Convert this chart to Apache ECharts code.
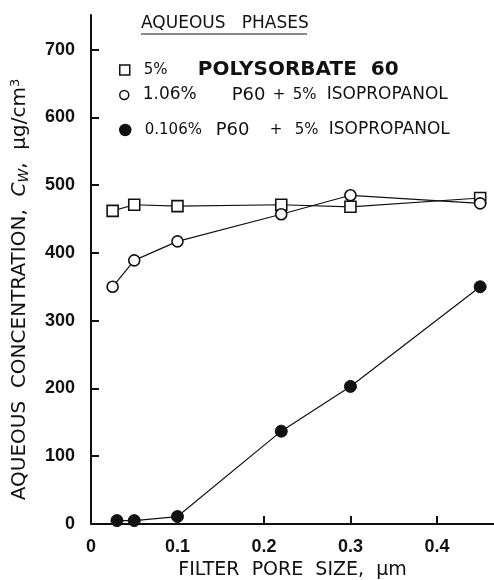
<!DOCTYPE html>
<html>
<head>
<meta charset="utf-8">
<script src="https://cdn.jsdelivr.net/npm/echarts@6/dist/echarts.min.js"></script>
<style>
  html, body { margin: 0; padding: 0; background: #fff; }
  #chart { width: 494px; height: 580px; }
</style>
</head>
<body>
<div id="chart"></div>
<script>
// values (pore size in um, concentration in ug/cm3)
const NAMES = ["5% POLYSORBATE 60", "1.06% P60 + 5% ISOPROPANOL", "0.106% P60 + 5% ISOPROPANOL"];
const P60_5 = [[0.025, 462], [0.05, 471], [0.1, 469], [0.22, 471], [0.3, 468], [0.45, 481]];
const P60_106 = [[0.025, 350], [0.05, 389], [0.1, 417], [0.22, 457], [0.3, 485], [0.45, 473]];
const P60_0106 = [[0.03, 5], [0.05, 5], [0.1, 11], [0.22, 137], [0.3, 203], [0.45, 350]];
const X_TICKS = [0, 0.1, 0.2, 0.3, 0.4];
const Y_TICKS = [0, 100, 200, 300, 400, 500, 600, 700];

const FONT = "Liberation Sans, Arial, sans-serif";
const WIDE = "DejaVu Sans, sans-serif";
const INK = "#111";

const chart = echarts.init(document.getElementById("chart"));

// rich segment with a fixed slot width, so the words line up like the original
const seg = (size, width, bold) => ({ fontFamily: WIDE, fontSize: size, width, color: INK,
  fontWeight: bold ? "bold" : "normal" });

// one legend per row so each row can sit where the original put it
function legendAt(name, top, icon, fill, size, text, rich) {
  return {
    data: [{ name, icon, itemStyle: { color: fill, borderColor: INK, borderWidth: 1.5 } }],
    left: 119, top, orient: "vertical",
    itemWidth: size, itemHeight: size, itemGap: 0, padding: 0,
    formatter: () => text,
    textStyle: { fontFamily: WIDE, color: INK, fontSize: 15, rich },
  };
}

chart.setOption({
  animation: false,
  grid: { left: 91, right: 0, top: 15, bottom: 56, outerBoundsMode: "none", containLabel: false },
  legend: [
    legendAt(NAMES[0], 60, "rect", "#fff", 10, "{g| }{a|5%}{b|POLYSORBATE  60}",
      { g: seg(15, 9), a: seg(15, 54), b: seg(20, null, true) }),
    legendAt(NAMES[1], 86, "circle", "#fff", 9, "{g| }{a|1.06%}{p|P60}{c|+}{d|5%}{e|ISOPROPANOL}",
      { g: seg(15, 9), a: seg(17, 89), p: seg(18, 41), c: seg(15, 20), d: seg(15, 34), e: seg(17) }),
    legendAt(NAMES[2], 121, "circle", INK, 11, "{g| }{a|0.106%}{p|P60}{c|+}{d|5%}{e|ISOPROPANOL}",
      { g: seg(15, 9), a: seg(15, 71), p: seg(18, 54), c: seg(15, 25), d: seg(15, 34), e: seg(17) }),
  ],
  graphic: [
    { type: "text", left: 141, top: 15,
      style: { text: "AQUEOUS   PHASES", fontFamily: WIDE, fontSize: 17, fill: INK } },
    { type: "line", shape: { x1: 141, y1: 34, x2: 307, y2: 34 }, style: { stroke: INK, lineWidth: 1.2 } },
  ],
  xAxis: {
    type: "value", min: 0, max: 0.466,
    axisLine: { lineStyle: { color: INK, width: 2 } },
    axisTick: { inside: true, length: 8, customValues: X_TICKS, lineStyle: { color: INK, width: 2 } },
    axisLabel: {
      customValues: X_TICKS, margin: 14, fontFamily: FONT, fontSize: 18, fontWeight: "bold", color: INK,
      formatter: (v) => (v === 0 ? "0" : v.toFixed(1)),
    },
    splitLine: { show: false },
    name: "FILTER  PORE  SIZE,  μm", nameLocation: "middle", nameGap: 35,
    nameTextStyle: { fontFamily: WIDE, fontSize: 19, color: INK },
  },
  yAxis: {
    type: "value", min: 0, max: 751,
    axisLine: { show: true, lineStyle: { color: INK, width: 2 } },
    axisTick: { show: true, inside: true, length: 8, customValues: Y_TICKS, lineStyle: { color: INK, width: 2 } },
    axisLabel: {
      customValues: Y_TICKS, margin: 16, fontFamily: FONT, fontSize: 18, fontWeight: "bold", color: INK,
    },
    splitLine: { show: false },
    name: "AQUEOUS  CONCENTRATION,  {i|C}{s|W},  μg/cm{p|3}", nameLocation: "middle", nameGap: 60,
    nameTextStyle: {
      fontFamily: WIDE, fontSize: 20, color: INK, padding: [0, 40, 0, 0],
      rich: {
        i: { fontFamily: WIDE, fontSize: 20, fontStyle: "italic", color: INK },
        s: { fontFamily: WIDE, fontSize: 14, fontStyle: "italic", color: INK, verticalAlign: "bottom", padding: [8, 0, 0, 0] },
        p: { fontFamily: WIDE, fontSize: 13, color: INK, verticalAlign: "top", padding: [0, 0, 8, 0] },
      },
    },
  },
  series: [
    { name: NAMES[0], type: "line", data: P60_5, symbol: "rect", symbolSize: 11, z: 3,
      lineStyle: { color: INK, width: 1.2 },
      itemStyle: { color: "#fff", borderColor: INK, borderWidth: 1.6 } },
    { name: NAMES[1], type: "line", data: P60_106, symbol: "circle", symbolSize: 11, z: 4,
      lineStyle: { color: INK, width: 1.2 },
      itemStyle: { color: "#fff", borderColor: INK, borderWidth: 1.6 } },
    { name: NAMES[2], type: "line", data: P60_0106, symbol: "circle", symbolSize: 12, z: 5,
      lineStyle: { color: INK, width: 1.2 },
      itemStyle: { color: INK, borderColor: INK, borderWidth: 1 } },
  ],
});
</script>
</body>
</html>
